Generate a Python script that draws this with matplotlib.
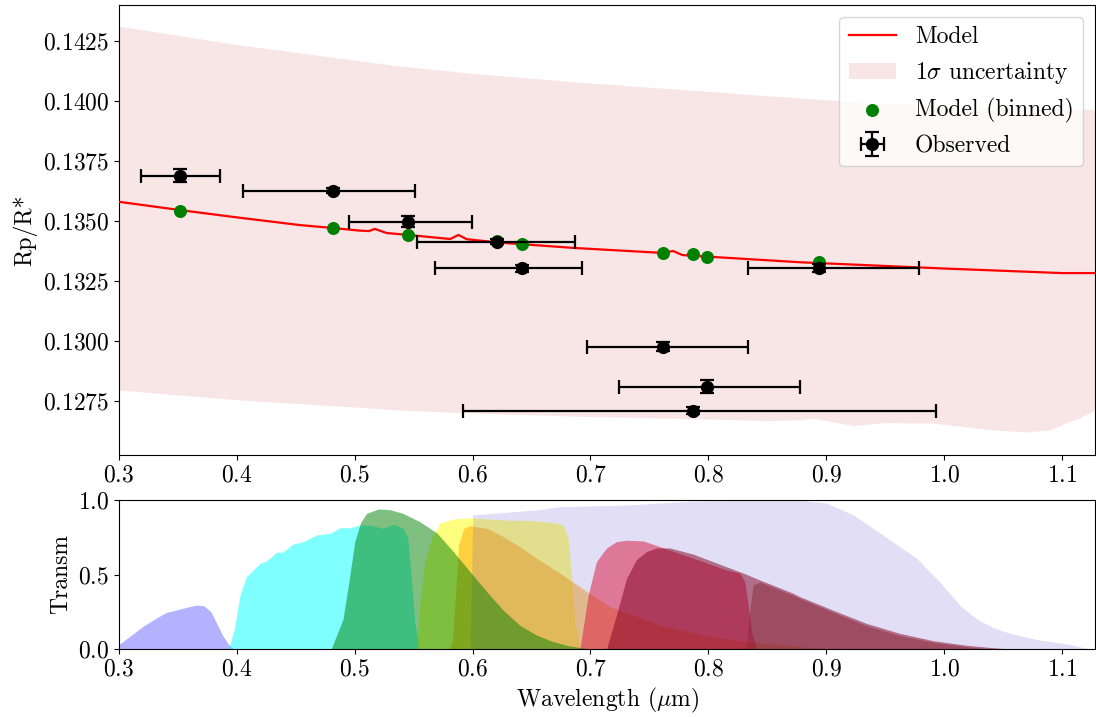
import matplotlib
matplotlib.use('Agg')
import matplotlib.pyplot as plt
from matplotlib.ticker import MultipleLocator

plt.rcParams['font.family'] = 'serif'
plt.rcParams['font.serif'] = ['cmr10']
plt.rcParams['mathtext.fontset'] = 'cm'
plt.rcParams['axes.formatter.use_mathtext'] = True
plt.rcParams['font.size'] = 17

# ---------------- data: top panel ----------------
model_wl = [0.300, 0.351, 0.400, 0.4535, 0.481, 0.504, 0.512, 0.517, 0.527, 0.545,
            0.581, 0.588, 0.595, 0.623, 0.685, 0.761, 0.770, 0.778, 0.878, 1.000,
            1.100, 1.128]
model_rp = [0.13580, 0.13546, 0.13515, 0.13483, 0.13471, 0.13460, 0.13458, 0.13467,
            0.13450, 0.13442, 0.13425, 0.13442, 0.13424, 0.13410, 0.13388, 0.13367,
            0.13375, 0.13358, 0.13328, 0.13302, 0.13283, 0.13283]

band_wl = [0.300, 0.400, 0.500, 0.538, 0.600, 0.700, 0.800, 0.850, 0.878, 0.889,
           0.923, 0.950, 0.990, 1.040, 1.070, 1.090, 1.104, 1.115, 1.128]
band_hi = [0.14312, 0.14235, 0.14170, 0.14146, 0.14115, 0.14075, 0.14040, 0.14022,
           0.14013, 0.14009, 0.13998, 0.13990, 0.13982, 0.13973, 0.13970, 0.13968,
           0.13967, 0.13966, 0.13965]
band_lo = [0.12796, 0.12755, 0.12725, 0.12712, 0.12700, 0.12685, 0.12675, 0.12668,
           0.12672, 0.12678, 0.12648, 0.12660, 0.12658, 0.12630, 0.12621, 0.12630,
           0.12660, 0.12680, 0.12712]

obs_wl = [0.3517, 0.4818, 0.5454, 0.6203, 0.6415, 0.7617, 0.7985, 0.7871, 0.8937]
obs_rp = [0.13688, 0.13626, 0.13497, 0.13414, 0.13303, 0.12976, 0.12810, 0.12710, 0.13304]
obs_rp_err = [0.00027, 0.00010, 0.00022, 0.00010, 0.00014, 0.00018, 0.00028, 0.00014, 0.00016]
obs_wl_lo = [0.3184, 0.4049, 0.4951, 0.5530, 0.5680, 0.6972, 0.7244, 0.5915, 0.8335]
obs_wl_hi = [0.3857, 0.5510, 0.5997, 0.6868, 0.6924, 0.8338, 0.8776, 0.9930, 0.9785]

binned_rp = [0.13543, 0.13472, 0.13442, 0.13418, 0.13404, 0.13365, 0.13349, 0.13361, 0.13329]

# ---------------- data: filter transmissions ----------------
f_blue_wl = [0.300, 0.310, 0.320, 0.330, 0.340, 0.350, 0.360, 0.366, 0.372, 0.378,
             0.383, 0.388, 0.393, 0.397]
f_blue_t = [0.03, 0.09, 0.15, 0.20, 0.245, 0.265, 0.285, 0.295, 0.29, 0.25,
            0.17, 0.09, 0.03, 0.0]

f_cyan_wl = [0.393, 0.398, 0.4026, 0.408, 0.4196, 0.425, 0.4337, 0.439, 0.4477, 0.456,
             0.4677, 0.479, 0.4875, 0.496, 0.504, 0.513, 0.524, 0.533, 0.541, 0.545,
             0.548, 0.551, 0.555]
f_cyan_t = [0.0, 0.14, 0.36, 0.485, 0.575, 0.59, 0.65, 0.65, 0.705, 0.72,
            0.765, 0.776, 0.814, 0.814, 0.832, 0.832, 0.81, 0.837, 0.81, 0.745,
            0.475, 0.18, 0.0]

f_yellow_wl = [0.5525, 0.555, 0.5595, 0.5653, 0.5723, 0.5835, 0.5977, 0.626, 0.654,
               0.6713, 0.677, 0.681, 0.684, 0.6868, 0.691, 0.695]
f_yellow_t = [0.0, 0.295, 0.586, 0.745, 0.845, 0.873, 0.88, 0.866, 0.86,
              0.845, 0.832, 0.745, 0.475, 0.18, 0.02, 0.0]

f_orange_wl = [0.5800, 0.5827, 0.5855, 0.588, 0.5925, 0.5977, 0.612, 0.626, 0.640,
               0.654, 0.674, 0.697, 0.7165, 0.759, 0.801, 0.844, 0.886, 0.920]
f_orange_t = [0.0, 0.05, 0.37, 0.70, 0.81, 0.827, 0.81, 0.754, 0.687,
              0.61, 0.51, 0.385, 0.284, 0.16, 0.083, 0.04, 0.01, 0.0]

f_lav_wl = [0.598, 0.600, 0.654, 0.674, 0.7306, 0.787, 0.8437, 0.8776, 0.900, 0.923,
            0.948, 0.960, 0.9766, 0.985, 0.9963, 1.005, 1.0133, 1.022, 1.030, 1.0416,
            1.050, 1.0614, 1.081, 1.1038, 1.1236]
f_lav_t = [0.0, 0.90, 0.933, 0.955, 0.966, 0.993, 1.0, 1.0, 0.98, 0.90,
           0.765, 0.70, 0.61, 0.54, 0.45, 0.37, 0.295, 0.235, 0.19, 0.145,
           0.12, 0.094, 0.06, 0.035, 0.0]

f_green_wl = [0.480, 0.490, 0.495, 0.500, 0.505, 0.510, 0.520, 0.530, 0.541, 0.555,
              0.5695, 0.5835, 0.5977, 0.612, 0.626, 0.640, 0.654, 0.668, 0.6825, 0.700]
f_green_t = [0.0, 0.20, 0.45, 0.72, 0.85, 0.91, 0.94, 0.935, 0.91, 0.855,
             0.78, 0.655, 0.52, 0.385, 0.26, 0.16, 0.094, 0.05, 0.02, 0.0]

f_crimson_wl = [0.691, 0.698, 0.705, 0.7136, 0.722, 0.7306, 0.7447, 0.7589, 0.787,
                0.8154, 0.8267, 0.831, 0.8338, 0.8367, 0.841]
f_crimson_t = [0.0, 0.36, 0.586, 0.678, 0.72, 0.73, 0.725, 0.687, 0.61,
               0.53, 0.51, 0.45, 0.295, 0.116, 0.0]

f_dred_wl = [0.7136, 0.722, 0.7306, 0.739, 0.7476, 0.756, 0.7673, 0.787, 0.8154, 0.8295,
             0.8437, 0.872, 0.8776, 0.9059, 0.934, 0.9624, 0.9907, 1.019, 1.047, 1.060]
f_dred_t = [0.0, 0.228, 0.475, 0.60, 0.655, 0.678, 0.678, 0.637, 0.552, 0.51,
            0.463, 0.374, 0.351, 0.26, 0.172, 0.105, 0.056, 0.025, 0.005, 0.0]

f_mauve_wl = [0.832, 0.835, 0.838, 0.8437, 0.872, 0.8776, 0.9059, 0.934, 0.9624,
              0.9907, 1.019, 1.040]
f_mauve_t = [0.0, 0.25, 0.43, 0.45, 0.36, 0.34, 0.246, 0.157, 0.09,
             0.045, 0.015, 0.0]

filters = [
    (f_blue_wl, f_blue_t, 'blue', 0.3),
    (f_cyan_wl, f_cyan_t, 'cyan', 0.5),
    (f_yellow_wl, f_yellow_t, 'yellow', 0.5),
    (f_orange_wl, f_orange_t, 'orange', 0.5),
    (f_lav_wl, f_lav_t, 'slateblue', 0.2),
    (f_green_wl, f_green_t, 'green', 0.5),
    (f_crimson_wl, f_crimson_t, 'crimson', 0.5),
    (f_dred_wl, f_dred_t, '#800020', 0.5),
    (f_mauve_wl, f_mauve_t, '#8e2b3a', 0.5),
]

# ---------------- figure ----------------
fig = plt.figure(figsize=(10.96, 7.17), dpi=100)
ax1 = fig.add_axes([119 / 1096, 1 - 455 / 717, 976 / 1096, 450 / 717])
ax2 = fig.add_axes([119 / 1096, 1 - 649 / 717, 976 / 1096, 149 / 717])

ax1.plot(model_wl, model_rp, color='red', lw=1.6, label='Model', zorder=3)
ax1.fill_between(band_wl, band_lo, band_hi, color='#f8e6e6', lw=0,
                 label=r'1$\sigma$ uncertainty', zorder=1)
ax1.scatter(obs_wl, binned_rp, s=70, color='green', label='Model (binned)', zorder=4)
xerr = [[c - l for c, l in zip(obs_wl, obs_wl_lo)], [h - c for c, h in zip(obs_wl, obs_wl_hi)]]
ax1.errorbar(obs_wl, obs_rp, xerr=xerr, yerr=obs_rp_err, fmt='o', color='black',
             ms=8.5, capsize=5, elinewidth=1.6, capthick=1.6, label='Observed', zorder=5)

ax1.set_xlim(0.3, 1.128)
ax1.set_ylim(0.12525, 0.1440)
ax1.yaxis.set_major_locator(MultipleLocator(0.0025))
ax1.xaxis.set_major_locator(MultipleLocator(0.1))
ax1.set_ylabel('Rp/R*')
ax1.legend(loc='upper right', fontsize=17, framealpha=0.8, borderaxespad=0.5)

for wl, t, c, a in filters:
    ax2.fill_between(wl, 0, t, color=c, alpha=a, lw=0)
ax2.set_xlim(0.3, 1.128)
ax2.set_ylim(0, 1.0)
ax2.set_yticks([0.0, 0.5, 1.0])
ax2.xaxis.set_major_locator(MultipleLocator(0.1))
ax2.set_ylabel('Transm')
ax2.set_xlabel(r'Wavelength ($\mu$m)')

fig.savefig('out.png', dpi=100)
